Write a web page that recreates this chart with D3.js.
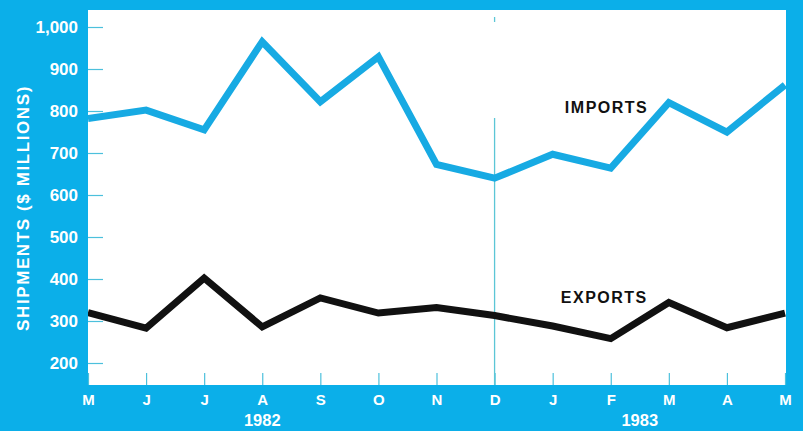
<!DOCTYPE html>
<html><head><meta charset="utf-8">
<script src="https://cdn.jsdelivr.net/npm/d3@7"></script>
<style>
html,body{margin:0;padding:0;background:#0bafe9;}
svg{display:block;}
text{font-family:"Liberation Sans",Arial,Helvetica,sans-serif;}
</style></head>
<body>
<svg id="chart" width="803" height="431"></svg>
<script>
const months = ["M","J","J","A","S","O","N","D","J","F","M","A","M"];
const imports = [782, 802, 755, 965, 822, 929, 673, 640, 697, 664, 820, 750, 862];
const exports_ = [320, 283, 402, 286, 355, 319, 332, 313, 288, 258, 344, 284, 319];
const yTicks = [200, 300, 400, 500, 600, 700, 800, 900, 1000];
const years = [{label:"1982", at:3}, {label:"1983", at:9.5}];
const seriesLabels = [{name:"IMPORTS", at:8.21, v:795}, {name:"EXPORTS", at:8.14, v:343}];

const W = 803, H = 431;
const plot = {left:88, right:786, top:10, bottom:385};
const svg = d3.select("#chart");

svg.append("rect").attr("width",W).attr("height",H).attr("fill","#0bafe9");
svg.append("rect").attr("x",plot.left).attr("y",plot.top)
  .attr("width",plot.right-plot.left).attr("height",plot.bottom-plot.top).attr("fill","#ffffff");

const idx = months.map((d,i)=>i);
const x = d3.scaleLinear().domain([0, months.length-1]).range([88, 785]);
const y = d3.scaleLinear().domain([200, 1000]).range([363, 27]);

svg.append("clipPath").attr("id","clip").append("rect")
  .attr("x",plot.left).attr("y",plot.top).attr("width",plot.right-plot.left).attr("height",plot.bottom-plot.top);

// Y axis
const yAxis = svg.append("g").attr("transform",`translate(${plot.left},0)`)
  .call(d3.axisLeft(y).tickValues(yTicks).tickFormat(d3.format(",")).tickSize(-15).tickPadding(10));
yAxis.select(".domain").remove();
yAxis.selectAll(".tick line").attr("stroke","#4cc0dc").attr("stroke-width",1.2);
yAxis.selectAll(".tick text").attr("fill","#ffffff").attr("font-size",17).attr("font-weight","bold")
  .attr("font-family","'Liberation Sans',Arial,sans-serif");

// X axis
const xAxis = svg.append("g").attr("transform",`translate(0,${plot.bottom})`)
  .call(d3.axisBottom(x).tickValues(idx).tickFormat(i=>months[i]).tickSize(-12).tickPadding(9));
xAxis.select(".domain").remove();
xAxis.selectAll(".tick line").attr("stroke","#4cc0dc").attr("stroke-width",1.2);
xAxis.selectAll(".tick text").attr("fill","#ffffff").attr("font-size",15).attr("font-weight","bold")
  .attr("font-family","'Liberation Sans',Arial,sans-serif");

// Year labels
svg.selectAll(".year").data(years).enter().append("text")
  .attr("x",d=>x(d.at)).attr("y",426).attr("text-anchor","middle")
  .attr("fill","#ffffff").attr("font-size",16.5).attr("font-weight","bold").text(d=>d.label);

// Year divider at D
svg.append("line").attr("x1",x(7)).attr("x2",x(7)).attr("y1",118).attr("y2",plot.bottom)
  .attr("stroke","#5cc6d6").attr("stroke-width",1.3);
svg.append("line").attr("x1",x(7)).attr("x2",x(7)).attr("y1",17).attr("y2",22)
  .attr("stroke","#5cc6d6").attr("stroke-width",1.3);

// Lines
const line = d3.line().x((d,i)=>x(i)).y(d=>y(d));
const g = svg.append("g").attr("clip-path","url(#clip)");
g.append("path").datum(imports).attr("d",line).attr("fill","none")
  .attr("stroke","#17aae3").attr("stroke-width",7).attr("stroke-linejoin","miter");
g.append("path").datum(exports_).attr("d",line).attr("fill","none")
  .attr("stroke","#111111").attr("stroke-width",7).attr("stroke-linejoin","miter");

// Series labels
svg.selectAll(".slabel").data(seriesLabels).enter().append("text")
  .attr("x",d=>x(d.at)).attr("y",d=>y(d.v)).attr("fill","#111111")
  .attr("font-size",16).attr("font-weight","bold").attr("letter-spacing","1.5px")
  .text(d=>d.name);

// Y title
svg.append("text").attr("transform","translate(29,208) rotate(-90)")
  .attr("text-anchor","middle").attr("fill","#ffffff").attr("font-size",17)
  .attr("font-weight","bold").attr("letter-spacing","1.6px").text("SHIPMENTS ($ MILLIONS)");
</script>
</body></html>
